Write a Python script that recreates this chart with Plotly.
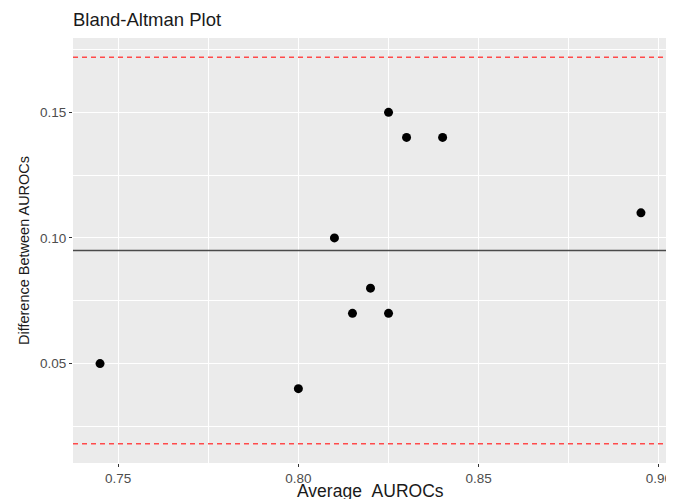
import numpy as np
import plotly.graph_objects as go

avg_aurocs = [0.745, 0.800, 0.810, 0.815, 0.820, 0.825, 0.825, 0.830, 0.840, 0.895]
diff_aurocs = [0.05, 0.04, 0.10, 0.07, 0.08, 0.07, 0.15, 0.14, 0.14, 0.11]
x_ticks = [0.75, 0.80, 0.85, 0.90]
x_tick_labels = ["0.75", "0.80", "0.85", "0.90"]
y_ticks = [0.05, 0.10, 0.15]
y_tick_labels = ["0.05", "0.10", "0.15"]

d = np.array(diff_aurocs)
mean_d = d.mean()
sd_d = d.std(ddof=1)
upper = mean_d + 1.96 * sd_d
lower = mean_d - 1.96 * sd_d

xmin, xmax = min(avg_aurocs), max(avg_aurocs)
xpad = 0.05 * (xmax - xmin)
ylo, yhi = min(lower, d.min()), max(upper, d.max())
ypad = 0.05 * (yhi - ylo)

W, H = 666, 491
MT, MB = 30, 36
PH = H - MT - MB
FONT = "Liberation Sans, Arial"

fig = go.Figure()
fig.add_trace(go.Scatter(
    x=avg_aurocs, y=diff_aurocs, mode="markers",
    marker=dict(color="black", size=9), showlegend=False,
))
fig.add_hline(y=mean_d, line=dict(color="#4a4a4a", width=1.5))
fig.add_hline(y=upper, line=dict(color="#FF4A4A", width=1.4, dash="5px,4px"))
fig.add_hline(y=lower, line=dict(color="#FF4A4A", width=1.4, dash="5px,4px"))

axis_common = dict(
    showgrid=True, gridcolor="white", gridwidth=1.2,
    zeroline=False, showline=False, automargin=False,
    ticks="outside", ticklen=3, tickcolor="#333333", tickwidth=1,
    tickfont=dict(family=FONT, size=13.5, color="#4D4D4D"),
)

fig.update_xaxes(
    range=[xmin - xpad, xmax + xpad],
    tickvals=x_ticks, ticktext=x_tick_labels,
    minor=dict(showgrid=True, gridcolor="white", gridwidth=0.6, dtick=0.025, tick0=0.0),
    **axis_common,
)
fig.update_yaxes(
    range=[ylo - ypad, yhi + ypad],
    tickvals=y_ticks, ticktext=y_tick_labels,
    minor=dict(showgrid=True, gridcolor="white", gridwidth=0.6, dtick=0.025, tick0=0.0),
    title=dict(text="Difference Between AUROCs", font=dict(family=FONT, size=14.5, color="#1a1a1a"), standoff=6),
    **axis_common,
)

fig.add_annotation(
    text="Average_AUROCs", xref="paper", yref="paper", x=0.5, y=-28 / PH,
    xanchor="center", yanchor="middle", showarrow=False,
    font=dict(family=FONT, size=17.5, color="#1a1a1a"),
)

fig.update_layout(
    width=W, height=H,
    margin=dict(l=65, r=6, t=MT, b=MB, autoexpand=False),
    plot_bgcolor="#EBEBEB", paper_bgcolor="white",
    title=dict(text="Bland-Altman Plot", x=65/W, xanchor="left", y=1 - 12/H, yanchor="middle",
               font=dict(family=FONT, size=18.5, color="#1a1a1a")),
)

fig.write_html("out.html")
